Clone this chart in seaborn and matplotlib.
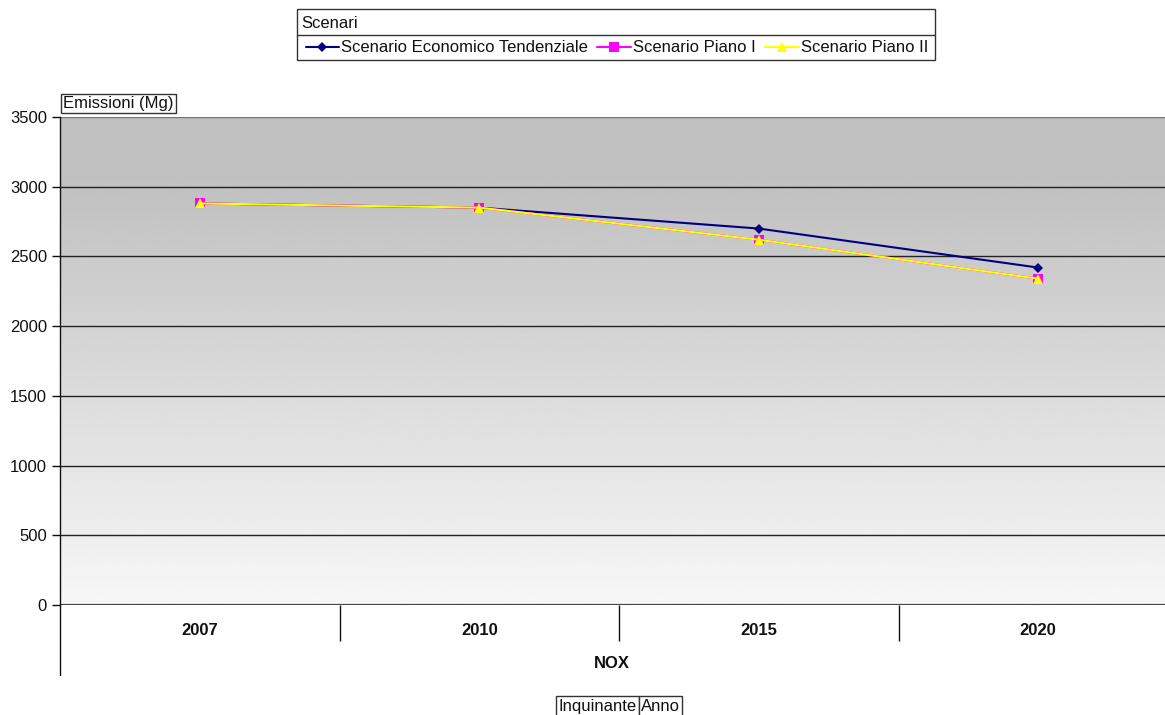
import numpy as np
import pandas as pd
import matplotlib
matplotlib.use("Agg")
import matplotlib.pyplot as plt
from matplotlib.patches import Rectangle
from matplotlib.lines import Line2D
import seaborn as sns

# --- data -------------------------------------------------------------
years = ["2007", "2010", "2015", "2020"]
scenario_names = ["Scenario Economico Tendenziale", "Scenario Piano I", "Scenario Piano II"]
tendenziale = [2880, 2850, 2700, 2420]
piano_1 = [2880, 2850, 2620, 2340]
piano_2 = [2880, 2850, 2620, 2340]
pollutant = "NOX"
y_ticks = [0, 500, 1000, 1500, 2000, 2500, 3000, 3500]
field_buttons = ["Inquinante", "Anno"]

series_values = [tendenziale, piano_1, piano_2]
frames = []
for name, vals in zip(scenario_names, series_values):
    frames.append(pd.DataFrame({"Anno": years, "pos": range(len(years)),
                                "Emissioni": vals, "Scenario": name}))
df = pd.concat(frames, ignore_index=True)

# --- styling ----------------------------------------------------------
sns.set_theme(style="white")
plt.rcParams["font.family"] = ["Liberation Sans", "DejaVu Sans"]
FS = 12

W, H, DPI = 1165, 715, 100
fig = plt.figure(figsize=(W / DPI, H / DPI), dpi=DPI)

# plot area in pixels (the last part of the category band runs past the right edge)
left_px, right_px, top_px, bottom_px = 60, 1178, 117, 605
ax = fig.add_axes([left_px / W, 1 - bottom_px / H,
                   (right_px - left_px) / W, (bottom_px - top_px) / H])

ax.set_xlim(-0.5, len(years) - 0.5)
ax.set_ylim(0, 3500)

# vertical grey gradient behind the data
yy = np.linspace(3500, 0, 300)
shade = np.where(yy > 3100, 0.75, 0.75 + (3100 - yy) / 3100 * 0.22)
grad = np.tile(shade[:, None], (1, 2))
ax.imshow(grad, cmap="gray", vmin=0, vmax=1, aspect="auto",
          extent=[-0.5, len(years) - 0.5, 0, 3500], zorder=0, interpolation="bilinear")

for yt in y_ticks[1:]:
    ax.axhline(yt, color="#777777" if yt == 3500 else "#222222", lw=1.0, zorder=1)
ax.axhline(0, color="#444444", lw=1.6, zorder=1)

styles = {
    "Scenario Economico Tendenziale": dict(color="#000080", marker="D", ms=5.0),
    "Scenario Piano I": dict(color="#FF00FF", marker="s", ms=6.5),
    "Scenario Piano II": dict(color="#FFFF00", marker="^", ms=6.5),
}
for name in scenario_names:
    st = styles[name]
    sub = df[df["Scenario"] == name]
    sns.lineplot(data=sub, x="pos", y="Emissioni", ax=ax, color=st["color"],
                 marker=st["marker"], markersize=st["ms"], markeredgewidth=0,
                 lw=1.5, zorder=3, legend=False)

ax.set_xlabel("")
ax.set_ylabel("")
for s in ["top", "right", "bottom"]:
    ax.spines[s].set_visible(False)
ax.spines["left"].set_color("#111111")
ax.spines["left"].set_linewidth(1.0)
ax.spines["left"].set_zorder(4)

# y axis
ax.set_yticks(y_ticks)
ax.set_yticklabels([str(v) for v in y_ticks], fontsize=FS, color="#111111")
ax.tick_params(axis="y", direction="out", length=5.8, width=1, color="#111111", pad=3.5, left=True)

# category axis: bold labels, dividers between categories
ax.set_xticks(range(len(years)))
ax.set_xticklabels(years, fontsize=FS, fontweight="bold", color="#111111")
ax.tick_params(axis="x", which="major", length=0, pad=13)
ax.set_xticks(np.arange(0.5, len(years) - 1, 1.0), minor=True)
ax.tick_params(axis="x", which="minor", direction="out", length=26, width=1,
               color="#111111", bottom=True)

# left axis line continues through the category band
ax.add_line(Line2D([-0.5, -0.5], [0, -70 / (bottom_px - top_px) * 3500],
                   color="#111111", lw=1.0, clip_on=False, zorder=4))

def fx(px):
    return px / W

def fy(py):
    return 1 - py / H

fig.text(fx(612), fy(663), pollutant, fontsize=FS, fontweight="bold",
         ha="center", va="center", color="#111111")

# legend box with title row
box_l, box_r, box_t, box_m, box_b = 297, 935, 9, 35, 60
fig.add_artist(Rectangle((fx(box_l), fy(box_b)), fx(box_r - box_l), (box_b - box_t) / H,
                         transform=fig.transFigure, fill=False, ec="#333333", lw=1.0))
fig.add_artist(Line2D([fx(box_l), fx(box_r)], [fy(box_m), fy(box_m)],
                      transform=fig.transFigure, color="#333333", lw=1.0))
fig.text(fx(box_l + 4), fy((box_t + box_m) / 2 + 1), "Scenari", fontsize=FS,
         ha="left", va="center", color="#111111")

handles = [Line2D([], [], color=styles[n]["color"], marker=styles[n]["marker"],
                  markersize=styles[n]["ms"], markeredgewidth=0, lw=1.5)
           for n in scenario_names]
fig.legend(handles, scenario_names, loc="center", ncol=3, frameon=False,
           bbox_to_anchor=(fx((box_l + box_r) / 2 + 1), fy((box_m + box_b) / 2 + 0.5)),
           fontsize=FS, handlelength=2.0, handletextpad=0.15, columnspacing=0.55,
           borderpad=0, labelcolor="#111111")

# axis title box
fig.text(fx(63), fy(103.5), "Emissioni (Mg)", fontsize=FS, ha="left", va="center",
         color="#111111",
         bbox=dict(boxstyle="square,pad=0.12", fc="white", ec="#333333", lw=1.0))

# field buttons at the bottom: adjacent boxes with a shared text baseline
btn_edges = [556, 639, 682]
btn_top, btn_bot = 696, 717
for label, x0, x1 in zip(field_buttons, btn_edges[:-1], btn_edges[1:]):
    fig.add_artist(Rectangle((fx(x0), fy(btn_bot)), fx(x1 - x0), (btn_bot - btn_top) / H,
                             transform=fig.transFigure, fc="white", ec="#333333", lw=1.0))
    fig.text(fx(x0 + 2), fy(btn_top + 15), label, fontsize=FS, ha="left", va="baseline",
             color="#111111")

fig.savefig("out.png", dpi=DPI, facecolor="white")
